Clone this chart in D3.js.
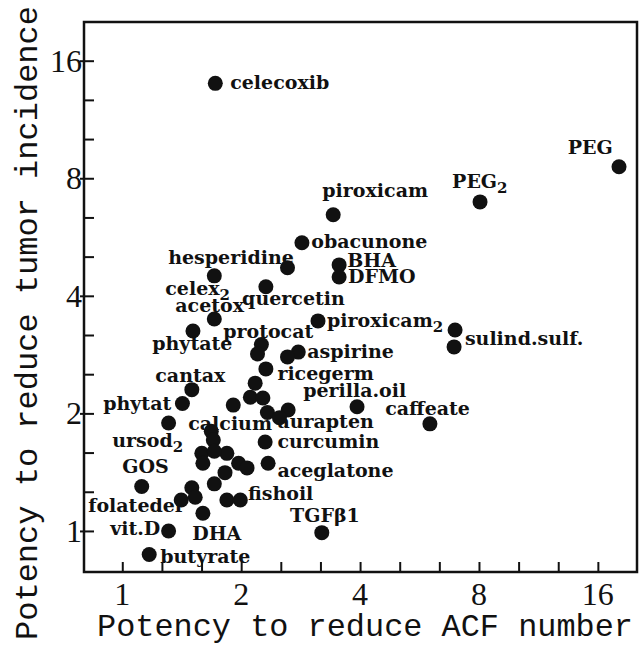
<!DOCTYPE html>
<html>
<head>
<meta charset="utf-8">
<script src="https://cdn.jsdelivr.net/npm/d3@7"></script>
<style>
  body { margin: 0; background: #fff; }
  text { fill: #111; }
  .title { font-family: "Liberation Mono", monospace; }
  .tick-label { font-family: "Liberation Serif", serif; }
  .name { font-family: "DejaVu Serif", serif; font-weight: bold; }
</style>
</head>
<body>
<script>
// potency to reduce ACF number (x) and tumor incidence (y), one entry per dot
const acf = [1.72, 18.1, 8.05, 3.42, 2.85, 3.54, 3.54, 2.62, 1.71, 2.31,
    1.71, 3.13, 6.96, 6.92, 1.51, 2.25, 2.20, 2.79, 2.62, 2.31,
    2.17, 1.50, 2.11, 2.27, 1.42, 1.91, 3.93, 2.33, 2.63, 2.50,
    1.31, 6.01, 1.68, 1.70, 2.30, 1.59, 1.84, 1.71, 1.60, 1.97,
    2.07, 2.34, 1.82, 1.12, 1.50, 1.71, 1.41, 1.53, 1.84, 1.99,
    1.60, 1.31, 3.20, 1.17]
const tumor = [14.0, 8.56, 6.96, 6.45, 5.47, 4.80, 4.47, 4.72, 4.50, 4.22,
    3.49, 3.45, 3.27, 2.96, 3.25, 3.00, 2.84, 2.87, 2.79, 2.60,
    2.39, 2.30, 2.20, 2.19, 2.12, 2.10, 2.08, 2.01, 2.04, 1.95,
    1.89, 1.88, 1.80, 1.71, 1.69, 1.58, 1.58, 1.60, 1.49, 1.49,
    1.45, 1.49, 1.41, 1.30, 1.29, 1.32, 1.20, 1.22, 1.20, 1.20,
    1.11, 1.00, 0.99, 0.87]

// agent names, optional subscript and where the name sits (data units)
const names = ['celecoxib', 'PEG', 'PEG', 'piroxicam', 'obacunone', 'BHA', 'DFMO',
    'hesperidine', 'celex', 'acetox', 'quercetin', 'protocat', 'piroxicam',
    'sulind.sulf.', 'phytate', 'aspirine', 'ricegerm', 'perilla.oil', 'cantax',
    'phytat', 'calcium', 'aurapten', 'ursod', 'curcumin', 'caffeate', 'GOS',
    'aceglatone', 'fishoil', 'folateder', 'TGF\u03b21', 'vit.D', 'DHA', 'butyrate']
const subs = ['', '', '2', '', '', '', '', '', '2', '', '', '', '2',
    '', '', '', '', '', '', '', '', '', '2', '', '', '', '', '', '', '', '', '', '']
const nameX = [1.876, 13.43, 6.84, 3.21, 3.01, 3.71, 3.73, 1.307, 1.285, 1.362,
    2.011, 1.801, 3.30, 7.37, 1.191, 2.94, 2.47, 2.87, 1.212, 0.895,
    1.469, 2.47, 0.943, 2.47, 4.63, 1.0, 2.47, 2.08, 0.820, 2.66,
    0.932, 1.503, 1.248]
const nameY = [13.57, 9.25, 7.56, 7.17, 5.31, 4.75, 4.32, 4.83, 4.02, 3.64,
    3.79, 3.12, 3.33, 3.00, 2.91, 2.77, 2.44, 2.20, 2.41, 2.04,
    1.815, 1.836, 1.641, 1.632, 1.98, 1.408, 1.375, 1.20, 1.119, 1.054,
    0.977, 0.948, 0.828]

const xTickLabels = [1, 2, 4, 8, 16]
const yTickLabels = [1, 2, 4, 8, 16]

const w = 639
const h = 645
const pL = 84, pR = 637, pT = 22, pB = 572

const x = d3.scaleLog().base(2).domain([0.8, 20.1]).range([pL, pR])
const y = d3.scaleLog().base(2).domain([0.785, 20.1]).range([pB, pT])

// third-octave ticks
const minor = d3.range(0, 13).map(k => Math.pow(2, k / 3))

const svg = d3.select('body').append('svg')
    .attr('width', w)
    .attr('height', h)

// inward ticks
svg.append('g')
    .attr('transform', `translate(0,${pB})`)
    .call(d3.axisBottom(x).tickValues(minor).tickSizeInner(-10).tickSizeOuter(0).tickFormat(''))
    .call(g => g.select('.domain').remove())

svg.append('g')
    .attr('transform', `translate(${pL},0)`)
    .call(d3.axisLeft(y).tickValues(minor).tickSizeInner(-10).tickSizeOuter(0).tickFormat(''))
    .call(g => g.select('.domain').remove())

// y majors poke out a little
svg.append('g')
    .attr('transform', `translate(${pL},0)`)
    .call(d3.axisLeft(y).tickValues(yTickLabels).tickSizeInner(4).tickSizeOuter(0).tickFormat(''))
    .call(g => g.select('.domain').remove())

svg.selectAll('.tick line').attr('stroke', '#111').attr('stroke-width', 2)

// frame
svg.append('rect')
    .attr('x', pL)
    .attr('y', pT)
    .attr('width', pR - pL)
    .attr('height', pB - pT)
    .attr('fill', 'none')
    .attr('stroke', '#111')
    .attr('stroke-width', 2.5)

// tick labels
svg.selectAll('.xlab')
    .data(xTickLabels)
    .join('text')
    .attr('class', 'tick-label')
    .attr('x', d => x(d))
    .attr('y', 605)
    .attr('text-anchor', 'middle')
    .attr('font-size', 32)
    .text(d => d)

svg.selectAll('.ylab')
    .data(yTickLabels)
    .join('text')
    .attr('class', 'tick-label')
    .attr('x', 82)
    .attr('y', d => y(d) + 11)
    .attr('text-anchor', 'end')
    .attr('font-size', 32)
    .text(d => d)

// axis titles
svg.append('text')
    .attr('class', 'title')
    .attr('x', 97)
    .attr('y', 636)
    .attr('font-size', 32)
    .attr('textLength', 536)
    .attr('lengthAdjust', 'spacingAndGlyphs')
    .text('Potency to reduce ACF number')

svg.append('text')
    .attr('class', 'title')
    .attr('transform', 'translate(37,640) rotate(-90)')
    .attr('font-size', 32)
    .attr('textLength', 634)
    .attr('lengthAdjust', 'spacingAndGlyphs')
    .text('Potency to reduce tumor incidence')

// dots
svg.selectAll('circle')
    .data(acf)
    .join('circle')
    .attr('cx', d => x(d))
    .attr('cy', (d, i) => y(tumor[i]))
    .attr('r', 7.5)
    .attr('fill', '#111')

// agent names
names.forEach((n, i) => {
    const lx = x(nameX[i])
    const ly = y(nameY[i])
    const t = svg.append('text')
        .attr('class', 'name')
        .attr('x', lx)
        .attr('y', ly)
        .attr('font-size', 19)
        .text(n)
    if (subs[i]) {
        svg.append('text')
            .attr('class', 'name')
            .attr('x', lx + t.node().getComputedTextLength())
            .attr('y', ly + 5)
            .attr('font-size', 15)
            .text(subs[i])
    }
})
</script>
</body>
</html>
